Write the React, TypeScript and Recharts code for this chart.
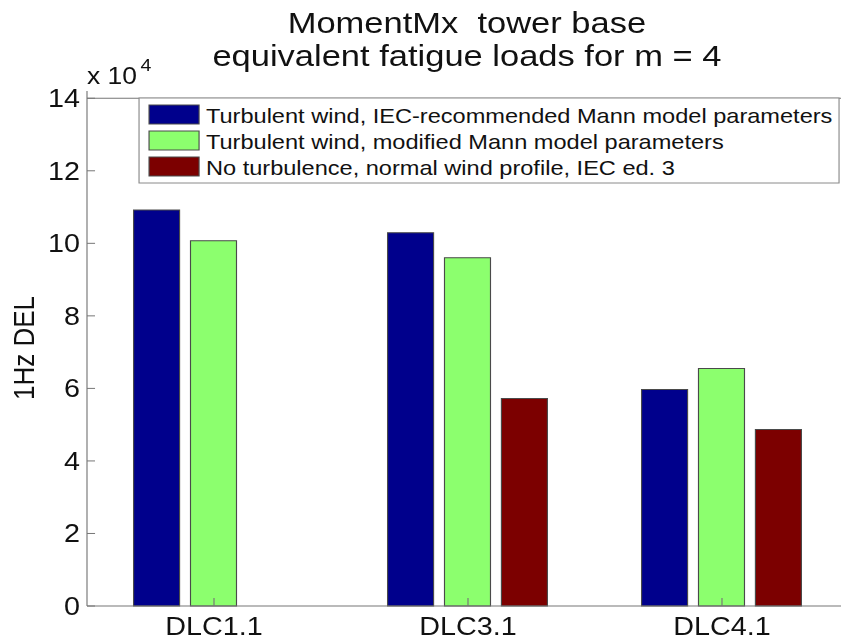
import { Bar, BarChart, ReferenceLine, XAxis, YAxis } from 'recharts';

const categories = ['DLC1.1', 'DLC3.1', 'DLC4.1'];
const iecMann = [10.92, 10.29, 5.97];
const modifiedMann = [10.07, 9.6, 6.55];
const noTurbulence = [null, 5.72, 4.87];
const yTicks = [0, 2, 4, 6, 8, 10, 12, 14];

const series = [
  { dataKey: 'iec', name: 'Turbulent wind, IEC-recommended Mann model parameters', color: '#00008c' },
  { dataKey: 'modified', name: 'Turbulent wind, modified Mann model parameters', color: '#8cff6e' },
  { dataKey: 'none', name: 'No turbulence, normal wind profile, IEC ed. 3', color: '#7c0000' },
];

const data = categories.map((label, i) => ({
  label,
  iec: iecMann[i],
  modified: modifiedMann[i],
  none: noTurbulence[i],
}));

// the reference is stretched sideways, so draw narrow and scale x
const SX = 1.15;
const W = 760;
const H = 641;
const AXIS = '#767676';
const FONT = '"Liberation Sans", Arial, Helvetica, sans-serif';

function YTick({ x, y, payload }: any) {
  return (
    <g>
      <line x1={x} x2={x + 7} y1={y} y2={y} stroke={AXIS} />
      <text x={x - 6} y={y} dy="0.36em" textAnchor="end" fontSize={25} fontFamily={FONT} fill="#111">
        {payload.value}
      </text>
    </g>
  );
}

function BottomTick({ x, y, payload }: any) {
  return (
    <g>
      <line x1={x} x2={x} y1={y} y2={y - 8} stroke={AXIS} />
      <text x={x} y={y + 29} textAnchor="middle" fontSize={25} fontFamily={FONT} fill="#111">
        {payload.value}
      </text>
    </g>
  );
}

function TopTick({ x, y }: any) {
  return <line x1={x} x2={x} y1={y} y2={y + 8} stroke={AXIS} />;
}

export default function App() {
  return (
    <div style={{ position: 'fixed', left: 0, top: 0, width: 841, height: 641, overflow: 'hidden', background: '#fff' }}>
      <div style={{ position: 'relative', width: W, height: H, transform: `scaleX(${SX})`, transformOrigin: '0 0' }}>
        <BarChart
          width={W}
          height={H}
          data={data}
          margin={{ top: 91, right: 21.75, bottom: 0, left: 15.65 }}
          barCategoryGap={40.5}
          barGap={9.5}
        >
          <XAxis
            xAxisId="top"
            orientation="top"
            dataKey="label"
            height={0}
            tick={<TopTick />}
            tickLine={false}
            tickSize={0}
            tickMargin={0}
            axisLine={{ stroke: AXIS }}
          />
          <XAxis
            xAxisId="bottom"
            dataKey="label"
            height={35}
            tick={<BottomTick />}
            tickLine={false}
            tickSize={0}
            tickMargin={0}
            axisLine={{ stroke: AXIS }}
          />
          <YAxis
            type="number"
            domain={[0, 14.2]}
            ticks={yTicks}
            width={60}
            tick={<YTick />}
            tickLine={false}
            tickSize={0}
            tickMargin={0}
            axisLine={{ stroke: AXIS }}
          />
          <ReferenceLine xAxisId="bottom" y={14} stroke={AXIS} />
          {series.map((s) => (
            <Bar
              key={s.dataKey}
              xAxisId="bottom"
              dataKey={s.dataKey}
              name={s.name}
              fill={s.color}
              stroke="#4a4a4a"
              strokeWidth={1}
              isAnimationActive={false}
            />
          ))}
        </BarChart>
        <svg
          width={W}
          height={H}
          style={{ position: 'absolute', left: 0, top: 0, pointerEvents: 'none' }}
          fontFamily={FONT}
        >
          <text x={406} y={33} textAnchor="middle" fontSize={30} fill="#111" style={{ whiteSpace: 'pre' }}>
            MomentMx  tower base
          </text>
          <text x={406} y={66} textAnchor="middle" fontSize={30} fill="#111">
            equivalent fatigue loads for m = 4
          </text>
          <text x={75.65} y={84} fontSize={23} fill="#111">
            x 10
            <tspan dx={3} dy={-13} fontSize={17}>
              4
            </tspan>
          </text>
          <text
            x={20.9}
            y={348}
            transform="rotate(-90, 20.9, 348)"
            textAnchor="middle"
            dominantBaseline="central"
            fontSize={26}
            fill="#111"
          >
            1Hz DEL
          </text>
          <rect x={120.9} y={98} width={608.7} height={85} fill="#fff" stroke="#8a8a8a" />
          {series.map((s, i) => (
            <g key={s.dataKey}>
              <rect x={129.6} y={105 + i * 26} width={43.5} height={19} fill={s.color} stroke="#4a4a4a" />
              <text x={179.1} y={123 + i * 26} fontSize={20.5} fill="#111">
                {s.name}
              </text>
            </g>
          ))}
        </svg>
      </div>
    </div>
  );
}
